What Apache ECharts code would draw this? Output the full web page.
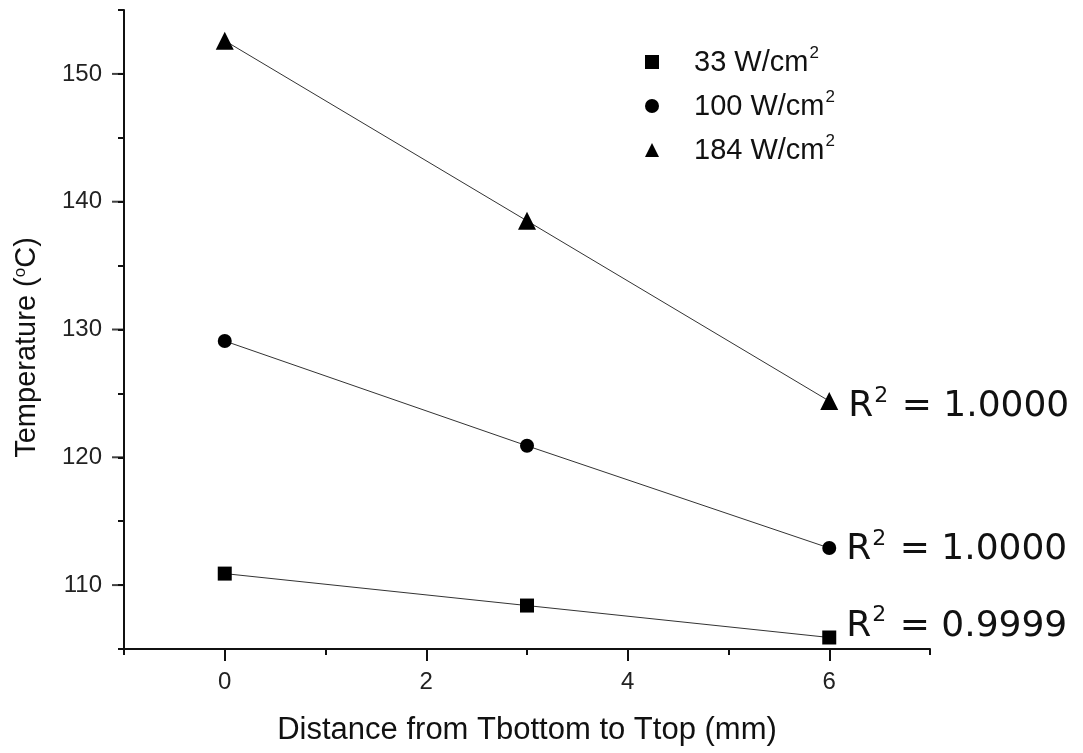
<!DOCTYPE html>
<html>
<head>
<meta charset="utf-8">
<script src="https://cdn.jsdelivr.net/npm/echarts@6/dist/echarts.min.js"></script>
<style>
  html, body { margin: 0; padding: 0; background: #fff; }
  #chart { width: 1083px; height: 753px; }
</style>
</head>
<body>
<div id="chart"></div>
<script>
// 数据
const xPos = [0, 3, 6]
const temp33 = [110.9, 108.4, 105.9]
const temp100 = [129.1, 120.9, 112.9]
const temp184 = [152.6, 138.5, 124.4]
const seriesNames = ['33 W/cm2', '100 W/cm2', '184 W/cm2']
const r2Values = ['0.9999', '1.0000', '1.0000']
const xMajorTicks = [0, 2, 4, 6]
const yMajorTicks = [110, 120, 130, 140, 150]

// 坐标范围 (次刻度间隔 1 / 5)
const xRange = [-1, 7]
const yRange = [105, 155]

// 绘图区
const W = 1083, H = 753
const plot = { left: 124, right: 930, top: 10, bottom: 649 }
const px = (v) => plot.left + (v - xRange[0]) / (xRange[1] - xRange[0]) * (plot.right - plot.left)
const py = (v) => plot.top + (yRange[1] - v) / (yRange[1] - yRange[0]) * (plot.bottom - plot.top)

const FONT = '"Liberation Sans", Arial, sans-serif'
const R2FONT = '"DejaVu Sans", Verdana, sans-serif'
const INK = '#111'
const chart = echarts.init(document.getElementById('chart'))

// R² 标签
const r2Rich = {
  r: { fontFamily: R2FONT, fontSize: 36, color: INK, lineHeight: 40, verticalAlign: 'bottom' },
  s: { fontFamily: R2FONT, fontSize: 22, color: INK, lineHeight: 22, verticalAlign: 'bottom', padding: [0, 2, 18, 1] }
}

const makeSeries = (name, values, symbol, size, r2, labelOffsetY) => ({
  name: name,
  type: 'line',
  xAxisIndex: 0,
  yAxisIndex: 0,
  symbol: symbol,
  symbolSize: size,
  itemStyle: { color: '#000' },
  lineStyle: { color: '#333', width: 1 },
  data: xPos.map((x, i) => ({
    value: [x, values[i]],
    label: {
      show: i === xPos.length - 1,
      position: 'right',
      distance: 10,
      offset: [0, labelOffsetY],
      formatter: '{r|R}{s|2}{r| = ' + r2 + '}',
      rich: r2Rich
    }
  })),
  z: 3
})

// 只画刻度的轴
const tickAxis = (gridIndex, position, range, interval, length) => ({
  gridIndex: gridIndex,
  type: 'value',
  position: position,
  min: range[0],
  max: range[1],
  interval: interval,
  axisLine: { show: true, onZero: false, lineStyle: { color: INK, width: 2 } },
  splitLine: { show: false },
  axisTick: { show: true, length: length, lineStyle: { color: INK, width: 2 } },
  axisLabel: { show: false }
})

const yMajorRange = [yMajorTicks[0], yMajorTicks[yMajorTicks.length - 1]]
const xMajorRange = [xMajorTicks[0], xMajorTicks[xMajorTicks.length - 1]]

chart.setOption({
  animation: false,
  backgroundColor: '#fff',
  grid: [
    // 主绘图区 (次刻度)
    { left: plot.left, right: W - plot.right, top: plot.top, bottom: H - plot.bottom },
    // y 主刻度标签
    { left: plot.left, right: W - plot.right, top: py(yMajorRange[1]), bottom: H - py(yMajorRange[0]) },
    // x 主刻度
    { left: px(xMajorRange[0]), right: W - px(xMajorRange[1]), top: plot.top, bottom: H - plot.bottom }
  ],
  legend: {
    orient: 'vertical',
    left: 640,
    top: 40,
    itemWidth: 14,
    itemHeight: 14,
    itemGap: 12,
    data: [
      { name: seriesNames[0], icon: 'rect' },
      { name: seriesNames[1], icon: 'circle' },
      { name: seriesNames[2], icon: 'triangle' }
    ],
    formatter: (name) => '{t|' + name.slice(0, -1) + '}{s|2}',
    textStyle: {
      padding: [0, 0, 0, 30],
      rich: {
        t: { fontFamily: FONT, fontSize: 29, color: INK, lineHeight: 30, verticalAlign: 'bottom' },
        s: { fontFamily: FONT, fontSize: 17, color: INK, lineHeight: 17, verticalAlign: 'bottom', padding: [0, 0, 15, 1] }
      }
    }
  },
  xAxis: [
    tickAxis(0, 'bottom', xRange, 1, 6),
    { gridIndex: 1, type: 'value', position: 'bottom', show: false, min: 0, max: 1 },
    tickAxis(2, 'bottom', xMajorRange, 2, 12),
    {
      gridIndex: 2,
      type: 'value',
      position: 'bottom',
      min: xMajorRange[0],
      max: xMajorRange[1],
      interval: 2,
      axisLine: { show: false, onZero: false },
      splitLine: { show: false },
      axisTick: { show: false },
      axisLabel: { margin: 21, fontFamily: FONT, fontSize: 24, color: '#222' },
      name: 'Distance from Tbottom to Ttop (mm)',
      nameLocation: 'middle',
      nameGap: 66,
      nameTextStyle: { fontFamily: FONT, fontSize: 31, color: INK }
    }
  ],
  yAxis: [
    tickAxis(0, 'left', yRange, 5, 6),
    {
      gridIndex: 1,
      type: 'value',
      position: 'left',
      min: yMajorRange[0],
      max: yMajorRange[1],
      interval: 10,
      axisLine: { show: false, onZero: false },
      splitLine: { show: false },
      axisTick: { show: false },
      axisLabel: { margin: 22, fontFamily: FONT, fontSize: 24, color: '#222' },
      name: 'Temperature ({s|o}C)',
      nameLocation: 'middle',
      nameGap: 82,
      nameTextStyle: {
        fontFamily: FONT,
        fontSize: 29,
        color: INK,
        padding: [0, 36, 0, 0],
        rich: {
          s: { fontFamily: FONT, fontSize: 17, color: INK, verticalAlign: 'top', lineHeight: 30 }
        }
      }
    },
    { gridIndex: 2, type: 'value', position: 'left', show: false, min: 0, max: 1 }
  ],
  series: [
    makeSeries(seriesNames[0], temp33, 'rect', 14, r2Values[0], -13),
    makeSeries(seriesNames[1], temp100, 'circle', 14, r2Values[1], 0),
    makeSeries(seriesNames[2], temp184, 'triangle', 18, r2Values[2], 4),
    {
      // y 主刻度线 (贴在 y 轴左侧)
      name: 'yMajorTick',
      type: 'scatter',
      xAxisIndex: 0,
      yAxisIndex: 0,
      silent: true,
      clip: false,
      symbol: 'rect',
      symbolSize: [12, 2],
      symbolOffset: [-6, 0],
      itemStyle: { color: INK },
      data: yMajorTicks.map((v) => [xRange[0], v]),
      z: 5
    }
  ]
})

window.addEventListener('resize', () => chart.resize())
</script>
</body>
</html>
